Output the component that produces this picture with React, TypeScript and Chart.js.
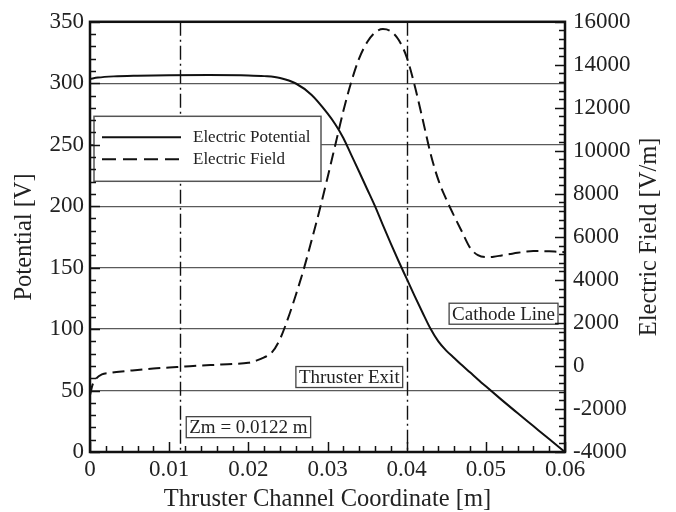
import React, { useEffect, useRef } from "react";
import { Chart, registerables } from "chart.js";

Chart.register(...registerables);

// ---- data ----
const POTENTIAL_X = [
  0, 0.001, 0.003, 0.006, 0.01, 0.015, 0.02, 0.022, 0.024, 0.026, 0.028, 0.03, 0.031, 0.032,
  0.033, 0.034, 0.035, 0.036, 0.037, 0.038, 0.039, 0.04, 0.041, 0.042, 0.043, 0.044, 0.045,
  0.046, 0.047, 0.048, 0.049, 0.05, 0.052, 0.054, 0.056, 0.058, 0.06,
];
const POTENTIAL_V = [
  303.5, 304.6, 305.6, 306.2, 306.6, 306.7, 306.4, 305.8, 304.3, 299.8, 290.5, 275.5, 266.5, 255.5,
  241.7, 228, 214, 200, 184.5, 169.5, 155, 141, 127, 113.5, 100.5, 90, 82.5,
  76.5, 70.5, 64.8, 59, 53.4, 42.4, 31.7, 21.1, 10.5, 0,
];

const FIELD_X = [
  0, 0.0003, 0.0008, 0.0015, 0.0025, 0.004, 0.006, 0.008, 0.01, 0.012, 0.014, 0.016, 0.018, 0.02,
  0.021, 0.022, 0.023, 0.024, 0.025, 0.026, 0.027, 0.028, 0.029, 0.03, 0.031, 0.032, 0.033, 0.034,
  0.035, 0.036, 0.037, 0.038, 0.039, 0.04, 0.041, 0.042, 0.043, 0.044, 0.045, 0.046, 0.047, 0.048,
  0.049, 0.05, 0.051, 0.052, 0.053, 0.054, 0.055, 0.056, 0.057, 0.058, 0.059, 0.06,
];
const FIELD_E = [
  -1364, -900, -580, -393, -324, -254, -185, -116, -70, -23, 23, 55, 90, 148,
  250, 400, 640, 1250, 2200, 3300, 4500, 5850, 7250, 8750, 10300, 11850, 13200, 14300,
  15050, 15500, 15660, 15560, 15150, 14360, 13050, 11500, 9900, 8650, 7750, 6970, 6230, 5500,
  5150, 5060, 5080, 5140, 5200, 5260, 5310, 5340, 5340, 5330, 5310, 5290,
];

const X_TICKS = [0, 0.01, 0.02, 0.03, 0.04, 0.05, 0.06];
const X_TICK_LABELS = ["0", "0.01", "0.02", "0.03", "0.04", "0.05", "0.06"];
const Y_LEFT_TICKS = [0, 50, 100, 150, 200, 250, 300, 350];
const Y_RIGHT_TICKS = [-4000, -2000, 0, 2000, 4000, 6000, 8000, 10000, 12000, 14000, 16000];

const ZM_X = 0.0114;
const EXIT_X = 0.04;
const SERIES_LABELS = ["Electric Potential", "Electric Field"];
const RIGHT_TITLE = "Electric Field [V/m]";
const ANNOTATIONS = [
  { text: "Thruster Exit", x: 0.04, v: 61, side: "left" },
  { text: "Zm = 0.0122 m", x: 0.0114, v: 20.2, side: "right" },
  { text: "Cathode Line", x: 0.06, v: 112.5, side: "left" },
];

const SERIF = "'Liberation Serif', 'Times New Roman', serif";

const decor = {
  id: "decor",
  beforeDatasetsDraw(chart: any) {
    const { ctx, chartArea: a, scales } = chart;
    const xs = scales.x;
    ctx.save();
    ctx.strokeStyle = "#111";
    ctx.lineWidth = 1.4;
    ctx.setLineDash([14, 4, 2, 4]);
    for (const v of [ZM_X, EXIT_X]) {
      const px = Math.round(xs.getPixelForValue(v)) + 0.5;
      ctx.beginPath();
      ctx.moveTo(px, a.top);
      ctx.lineTo(px, a.bottom);
      ctx.stroke();
    }
    ctx.restore();
  },
  afterDatasetsDraw(chart: any) {
    const { ctx, chartArea: a, scales } = chart;
    const xs = scales.x;
    const yl = scales.y;
    const yr = scales.y2;
    ctx.save();

    // legend
    const lx = a.left + 4;
    const ly = a.top + 94.5;
    ctx.fillStyle = "#fff";
    ctx.fillRect(lx, ly, 227, 65);
    ctx.strokeStyle = "#555";
    ctx.lineWidth = 1.5;
    ctx.setLineDash([]);
    ctx.strokeRect(lx, ly, 227, 65);
    ctx.strokeStyle = "#111";
    ctx.lineWidth = 2;
    ctx.beginPath();
    ctx.moveTo(lx + 8, ly + 21);
    ctx.lineTo(lx + 87, ly + 21);
    ctx.stroke();
    ctx.setLineDash([14, 7]);
    ctx.beginPath();
    ctx.moveTo(lx + 8, ly + 43);
    ctx.lineTo(lx + 87, ly + 43);
    ctx.stroke();
    ctx.setLineDash([]);
    ctx.fillStyle = "#222";
    ctx.font = `17px ${SERIF}`;
    ctx.textBaseline = "middle";
    ctx.textAlign = "left";
    ctx.fillText(SERIES_LABELS[0], lx + 99, ly + 21);
    ctx.fillText(SERIES_LABELS[1], lx + 99, ly + 43);

    // annotations
    ctx.font = `19px ${SERIF}`;
    for (const an of ANNOTATIONS) {
      const w = ctx.measureText(an.text).width + 6;
      const h = 21;
      const px = xs.getPixelForValue(an.x);
      const py = yl.getPixelForValue(an.v);
      const bx = an.side === "left" ? px - (an.x >= 0.059 ? 7 : 4) - w : px + 6;
      const by = py - h / 2;
      ctx.fillStyle = "#fff";
      ctx.fillRect(bx, by, w, h);
      ctx.strokeStyle = "#444";
      ctx.lineWidth = 1.3;
      ctx.strokeRect(bx, by, w, h);
      ctx.fillStyle = "#222";
      ctx.textAlign = "left";
      ctx.textBaseline = "middle";
      ctx.fillText(an.text, bx + 3, py + 1);
    }

    // frame
    ctx.strokeStyle = "#111";
    ctx.lineWidth = 2.5;
    ctx.strokeRect(a.left, a.top, a.right - a.left, a.bottom - a.top);

    // ticks
    ctx.lineWidth = 1.5;
    ctx.beginPath();
    for (let i = 0; i <= 35; i++) {
      const y = Math.round(yl.getPixelForValue(i * 10)) + 0.5;
      const len = i % 5 === 0 ? 10 : 6;
      ctx.moveTo(a.left, y);
      ctx.lineTo(a.left + len, y);
    }
    for (let i = 0; i <= 50; i++) {
      const y = Math.round(yr.getPixelForValue(-4000 + i * 400)) + 0.5;
      const len = i % 5 === 0 ? 10 : 6;
      ctx.moveTo(a.right, y);
      ctx.lineTo(a.right - len, y);
    }
    for (let i = 0; i <= 30; i++) {
      const x = Math.round(xs.getPixelForValue(i * 0.002)) + 0.5;
      const len = i % 5 === 0 ? 10 : 6;
      ctx.moveTo(x, a.bottom);
      ctx.lineTo(x, a.bottom - len);
    }
    ctx.stroke();

    // right axis title (reads bottom-to-top)
    ctx.translate(yr.right - 26, (a.top + a.bottom) / 2);
    ctx.rotate(-Math.PI / 2);
    ctx.font = `24.5px ${SERIF}`;
    ctx.fillStyle = "#222";
    ctx.textAlign = "center";
    ctx.textBaseline = "middle";
    ctx.fillText(RIGHT_TITLE, 0, 0);
    ctx.restore();
  },
};

export default function App() {
  const ref = useRef<HTMLCanvasElement>(null);
  useEffect(() => {
    if (!ref.current) return;
    const chart = new Chart(ref.current, {
      type: "line",
      data: {
        datasets: [
          {
            label: SERIES_LABELS[0],
            data: POTENTIAL_X.map((x, i) => ({ x, y: POTENTIAL_V[i] })),
            yAxisID: "y",
            borderColor: "#111",
            borderWidth: 2,
            pointRadius: 0,
            cubicInterpolationMode: "monotone",
          },
          {
            label: SERIES_LABELS[1],
            data: FIELD_X.map((x, i) => ({ x, y: FIELD_E[i] })),
            yAxisID: "y2",
            borderColor: "#111",
            borderWidth: 2,
            borderDash: [12, 6],
            pointRadius: 0,
            cubicInterpolationMode: "monotone",
          },
        ],
      },
      options: {
        animation: false,
        responsive: true,
        maintainAspectRatio: false,
        events: [],
        layout: { padding: { top: 19.5, left: 0, right: 0, bottom: 0 } },
        plugins: { legend: { display: false }, tooltip: { enabled: false } },
        scales: {
          x: {
            type: "linear",
            min: 0,
            max: 0.06,
            afterBuildTicks: (s: any) => {
              s.ticks = X_TICKS.map((v) => ({ value: v }));
            },
            afterFit: (s: any) => {
              s.height = 60;
            },
            ticks: {
              callback: (_v: any, i: number) => X_TICK_LABELS[i],
              font: { family: SERIF, size: 23 },
              color: "#222",
              padding: 4,
              maxRotation: 0,
            },
            grid: { display: false, drawTicks: false },
            border: { display: false },
            title: {
              display: true,
              text: "Thruster Channel Coordinate [m]",
              font: { family: SERIF, size: 24.5, lineHeight: 1 },
              color: "#222",
              padding: { top: 0, bottom: 0 },
            },
          },
          y: {
            type: "linear",
            position: "left",
            min: 0,
            max: 350,
            afterBuildTicks: (s: any) => {
              s.ticks = Y_LEFT_TICKS.map((v) => ({ value: v }));
            },
            afterFit: (s: any) => {
              s.width = 90;
            },
            ticks: {
              font: { family: SERIF, size: 23 },
              color: "#222",
              padding: 6,
            },
            grid: {
              display: true,
              drawTicks: false,
              lineWidth: 1.3,
              color: (c: any) =>
                c.tick && c.tick.value > 0 && c.tick.value < 350 ? "#5a5a5a" : "rgba(0,0,0,0)",
            },
            border: { display: false },
            title: {
              display: true,
              text: "Potential [V]",
              font: { family: SERIF, size: 24.5, lineHeight: 1 },
              color: "#222",
              padding: { top: 12, bottom: 0 },
            },
          },
          y2: {
            type: "linear",
            position: "right",
            min: -4000,
            max: 16000,
            afterBuildTicks: (s: any) => {
              s.ticks = Y_RIGHT_TICKS.map((v) => ({ value: v }));
            },
            afterFit: (s: any) => {
              s.width = 111;
            },
            ticks: {
              font: { family: SERIF, size: 23 },
              color: "#222",
              padding: 8,
              callback: (v: any) => String(v),
            },
            grid: { display: false, drawTicks: false },
            border: { display: false },
          },
        },
      },
      plugins: [decor],
    } as any);
    return () => chart.destroy();
  }, []);
  return (
    <div style={{ position: "fixed", left: 0, top: 0, width: 676, height: 512, background: "#fff" }}>
      <canvas ref={ref} />
    </div>
  );
}
